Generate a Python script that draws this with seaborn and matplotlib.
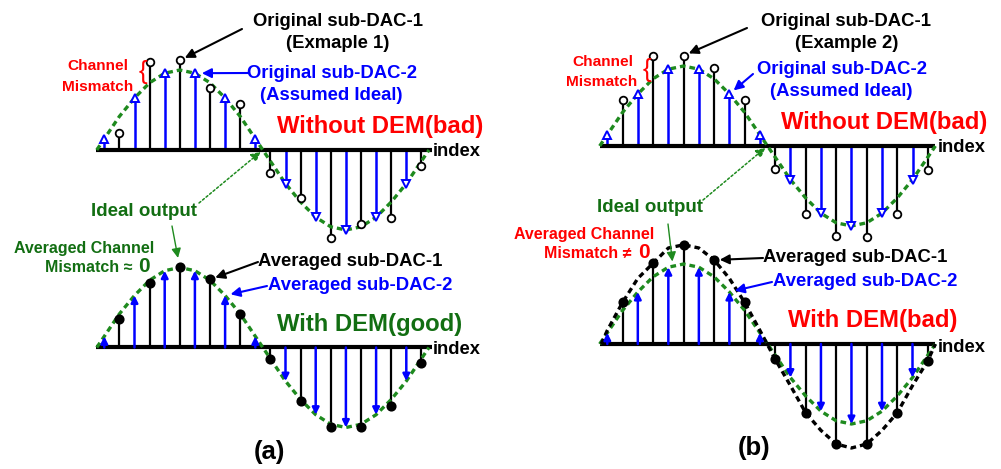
import matplotlib
matplotlib.use("Agg")
import matplotlib.pyplot as plt
import seaborn as sns
import pandas as pd

# ---------------------------------------------------------------- data
index = list(range(22))
dac1_idx = index[1::2]          # sub-DAC-1 serves the odd samples
dac2_idx = index[0::2]          # sub-DAC-2 serves the even samples

# ideal (normalised) output sample at every index
ideal = [0.14, 0.42, 0.65, 0.84, 0.96, 1.00, 0.96, 0.84, 0.65, 0.42, 0.14,
         -0.14, -0.42, -0.65, -0.84, -0.96, -1.00, -0.96, -0.84, -0.65, -0.42, -0.14]
curve_start, curve_end = -0.5, 21.5

# sub-DAC-1 outputs (odd indices)
orig_dac1_ex1 = [0.21, 1.10, 1.12, 0.77, 0.57, -0.29, -0.60, -1.10, -0.93, -0.85, -0.20]
orig_dac1_ex2 = [0.58, 1.13, 1.13, 0.97, 0.58, -0.29, -0.85, -1.13, -1.14, -0.85, -0.30]
avg_dac1_ex1 = [0.36, 0.81, 1.00, 0.85, 0.42, -0.15, -0.67, -1.00, -1.00, -0.73, -0.19]
# averaged output with DEM in example 2 (gain error survives averaging)
avg_curve_ex2 = [0.17, 0.52, 0.82, 1.01, 1.20, 1.24, 1.20, 1.05, 0.82, 0.52, 0.17,
                 -0.19, -0.52, -0.86, -1.08, -1.25, -1.30, -1.25, -1.08, -0.86, -0.52, -0.21]

axis_span_a = (-0.55, 21.7)
axis_span_b = (-0.48, 21.47)

# ---------------------------------------------------------------- style
sns.set_theme(style="white")
plt.rcParams["font.family"] = ["Liberation Sans", "DejaVu Sans"]
plt.rcParams["font.weight"] = "bold"

BLUE = "#0000FF"
RED = "#FF0000"
GREEN_T = "#126E12"
GREEN_L = "#1E8A1E"

W, H = 1001, 469
fig = plt.figure(figsize=(W / 100, H / 100), dpi=100)
fig.patch.set_facecolor("white")


def panel(x0, dx, y0, amp):
    """Axes whose data coordinates are (sample index, normalised level)."""
    xl, xr = x0 - 1.5 * dx, x0 + 22.5 * dx
    yt, yb = y0 - 1.6 * amp, y0 + 1.6 * amp
    ax = fig.add_axes([xl / W, 1 - yb / H, (xr - xl) / W, (yb - yt) / H])
    ax.set_xlim(-1.5, 22.5)
    ax.set_ylim(-1.6, 1.6)
    ax.axis("off")
    ax.patch.set_alpha(0)
    return ax


def ideal_curve(ax, color=GREEN_L):
    df = pd.DataFrame({"i": [curve_start] + index + [curve_end],
                       "v": [0.0] + ideal + [0.0]})
    sns.lineplot(data=df, x="i", y="v", ax=ax, color=color, lw=2.4,
                 linestyle=(0, (1.7, 1.2)), zorder=4, sort=False)


def baseline(ax, span):
    ax.hlines(0, span[0], span[1], color="black", lw=3.0, zorder=3)


def stems_dac2_hollow(ax):
    vals = [ideal[i] for i in dac2_idx]
    ax.vlines(dac2_idx, 0, vals, color=BLUE, lw=1.8, zorder=2)
    pos = [(i, v) for i, v in zip(dac2_idx, vals) if v >= 0]
    neg = [(i, v) for i, v in zip(dac2_idx, vals) if v < 0]
    ax.plot([p[0] for p in pos], [p[1] for p in pos], "^", ms=5.5, mfc="white",
            mec=BLUE, mew=1.4, zorder=6, ls="none")
    ax.plot([p[0] for p in neg], [p[1] for p in neg], "v", ms=5.5, mfc="white",
            mec=BLUE, mew=1.4, zorder=6, ls="none")


def stems_dac2_arrows(ax):
    for i in dac2_idx:
        ax.annotate("", xy=(i, ideal[i]), xytext=(i, 0),
                    arrowprops=dict(arrowstyle="-|>", color=BLUE, lw=1.8,
                                    mutation_scale=10, shrinkA=0, shrinkB=0),
                    zorder=6)


def stems_dac1(ax, vals, filled):
    ax.vlines(dac1_idx, 0, vals, color="black", lw=1.6, zorder=2)
    ax.plot(dac1_idx, vals, "o", ms=5.5 if not filled else 6,
            mfc="black" if filled else "white", mec="black", mew=1.3,
            zorder=7, ls="none")


# panel placements (pixel geometry of each stem plot)
ax_a1 = panel(104.3, 15.1, 150.0, 80)
ax_a2 = panel(104.3, 15.1, 347.5, 80)
ax_b1 = panel(607.3, 15.26, 146.0, 80)
ax_b2 = panel(607.3, 15.26, 344.0, 80)

for ax, span in [(ax_a1, axis_span_a), (ax_a2, axis_span_a),
                 (ax_b1, axis_span_b), (ax_b2, axis_span_b)]:
    baseline(ax, span)

ideal_curve(ax_a1); stems_dac2_hollow(ax_a1); stems_dac1(ax_a1, orig_dac1_ex1, False)
ideal_curve(ax_b1); stems_dac2_hollow(ax_b1); stems_dac1(ax_b1, orig_dac1_ex2, False)
ideal_curve(ax_a2); stems_dac2_arrows(ax_a2); stems_dac1(ax_a2, avg_dac1_ex1, True)

ideal_curve(ax_b2); stems_dac2_arrows(ax_b2)
stems_dac1(ax_b2, avg_curve_ex2[1::2], True)
df_avg = pd.DataFrame({"i": [curve_start + 0.1] + index + [curve_end],
                       "v": [0.0] + avg_curve_ex2 + [0.0]})
sns.lineplot(data=df_avg, x="i", y="v", ax=ax_b2, color="black", lw=2.4,
             linestyle=(0, (1.7, 1.2)), zorder=5, sort=False)

# ---------------------------------------------------------------- annotations
ov = fig.add_axes([0, 0, 1, 1])
ov.set_xlim(0, W)
ov.set_ylim(H, 0)
ov.axis("off")
ov.patch.set_alpha(0)
ov.set_zorder(10)


def txt(x, y, s, size, color="black", ha="center", **kw):
    ov.text(x, y, s, fontsize=size, color=color, ha=ha, va="center",
            fontweight="bold", **kw)


def brace(x, y):
    ov.text(x, y, "{", fontsize=19, color=RED, ha="center", va="center",
            family="Liberation Sans", fontweight="normal")


def arrow(src, ax, xy, color, lw=1.5, ls="-", ms=14, shrink=3):
    ov.annotate("", xy=xy, xycoords=ax.transData, xytext=src,
                textcoords=ov.transData,
                arrowprops=dict(arrowstyle="-|>", color=color, lw=lw,
                                linestyle=ls, mutation_scale=ms,
                                shrinkA=0, shrinkB=shrink))


# (a) top
txt(338, 21, "Original sub-DAC-1", 13.3)
txt(338, 43, "(Exmaple 1)", 13.3)
arrow((242, 29), ax_a1, (5, orig_dac1_ex1[2]), "black", shrink=4)
txt(98, 66, "Channel", 11.1, RED)
txt(98, 87, "Mismatch", 11.1, RED)
brace(143, 72)
txt(332, 73, "Original sub-DAC-2", 13.3, BLUE)
txt(331, 95, "(Assumed Ideal)", 13.3, BLUE)
arrow((248, 73), ax_a1, (6, ideal[6]), BLUE, shrink=5)
txt(380, 126, "Without DEM(bad)", 17.2, RED)
txt(433, 152, "index", 13.2, ha="left")
txt(144, 212, "Ideal output", 13.5, GREEN_T)
arrow((199, 203), ax_a1, (10.5, 0), GREEN_L, lw=1.1, ls=(0, (1.5, 1.5)), ms=14, shrink=2)
arrow((172, 226), ax_a2, (5, 1.0), GREEN_L, lw=1.0, ms=14, shrink=7)

# (a) bottom
txt(154, 248, "Averaged Channel", 11.5, GREEN_T, ha="right")
ov.text(137, 268, "Mismatch \u2248 ", fontsize=11.5, color=GREEN_T, ha="right",
        va="center", fontweight="bold", family=["Liberation Sans", "DejaVu Sans"])
txt(144, 266, "0", 15, GREEN_T)
txt(350, 262, "Averaged sub-DAC-1", 13.3)
arrow((258, 262), ax_a2, (7, avg_dac1_ex1[3]), "black", shrink=4)
txt(360, 285, "Averaged sub-DAC-2", 13.3, BLUE)
arrow((267, 286), ax_a2, (8, ideal[8]), BLUE, shrink=4)
txt(370, 325, "With DEM(good)", 17.2, GREEN_T)
txt(433, 350, "index", 13.2, ha="left")
txt(269, 452, "(a)", 18.5)

# (b) top
txt(846, 22, "Original sub-DAC-1", 13.3)
txt(847, 44, "(Example 2)", 13.3)
arrow((747, 28), ax_b1, (5, orig_dac1_ex2[2]), "black", shrink=4)
txt(603, 62, "Channel", 11.1, RED)
txt(602, 82, "Mismatch", 11.1, RED)
brace(647, 70)
txt(842, 69, "Original sub-DAC-2", 13.3, BLUE)
txt(841, 92, "(Assumed Ideal)", 13.3, BLUE)
arrow((753, 74), ax_b1, (8, ideal[8]), BLUE, shrink=4)
txt(884, 123, "Without DEM(bad)", 17.2, RED)
txt(938, 148, "index", 13.2, ha="left")
txt(650, 208, "Ideal output", 13.5, GREEN_T)
arrow((703, 200), ax_b1, (10.5, 0), GREEN_L, lw=1.1, ls=(0, (1.5, 1.5)), ms=14, shrink=2)
arrow((668, 224), ax_b2, (4.3, 0.98), GREEN_L, lw=1.0, ms=14, shrink=3)

# (b) bottom
txt(654, 234, "Averaged Channel", 11.5, RED, ha="right")
ov.text(636, 254, "Mismatch \u2260 ", fontsize=11.5, color=RED, ha="right",
        va="center", fontweight="bold", family=["Liberation Sans", "DejaVu Sans"])
txt(644, 252, "0", 15, RED)
txt(855, 257, "Averaged sub-DAC-1", 13.3)
arrow((763, 258), ax_b2, (7, avg_curve_ex2[7]), "black", shrink=4)
txt(865, 281, "Averaged sub-DAC-2", 13.3, BLUE)
arrow((772, 282), ax_b2, (8, ideal[8]), BLUE, shrink=4)
txt(873, 321, "With DEM(bad)", 17.2, RED)
txt(938, 347, "index", 13.2, ha="left")
txt(754, 448, "(b)", 18.5)

fig.savefig("out.png", dpi=100, facecolor="white")
